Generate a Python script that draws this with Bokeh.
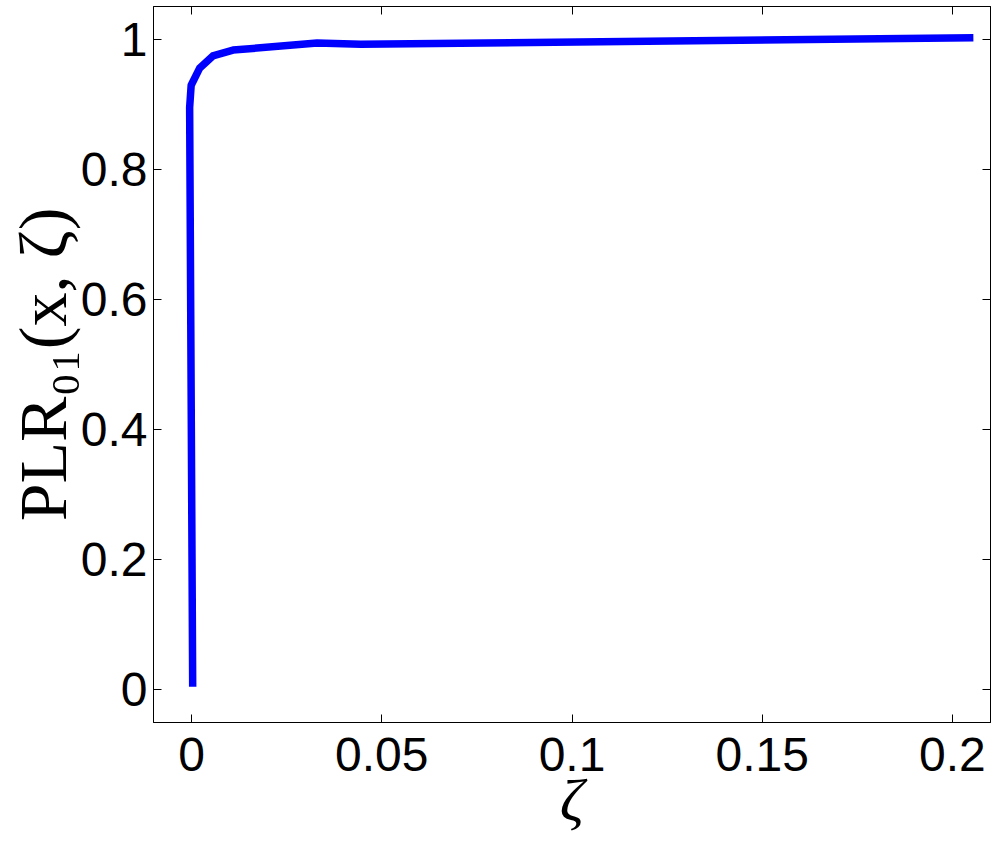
from bokeh.plotting import figure
from bokeh.models import LinearAxis, FixedTicker, Range1d
from bokeh.embed import file_html
from bokeh.resources import INLINE

# ---- data ----
zeta = [0.0003, -0.0005, -0.0001, 0.0021, 0.0056, 0.0109, 0.0330, 0.0445, 0.2055]
plr = [0.005, 0.895, 0.929, 0.955, 0.974, 0.983, 0.994, 0.992, 1.002]

x_ticks = [0, 0.05, 0.1, 0.15, 0.2]
x_tick_labels = ["0", "0.05", "0.1", "0.15", "0.2"]
y_ticks = [0, 0.2, 0.4, 0.6, 0.8, 1.0]
y_tick_labels = ["0", "0.2", "0.4", "0.6", "0.8", "1"]

x_label = "ζ"
y_label = "PLR₀₁(x, ζ)"

TICK_FONT = "Liberation Sans"
LABEL_FONT = "Liberation Serif"

p = figure(width=997, height=841,
           x_range=Range1d(-0.01, 0.21), y_range=Range1d(-0.05, 1.05),
           output_backend="svg", toolbar_location=None,
           min_border_left=153, min_border_right=7,
           min_border_top=6, min_border_bottom=119)

p.line(zeta, plr, line_color="#0000FF", line_width=7.5, line_join="round")

p.xgrid.visible = False
p.ygrid.visible = False
p.outline_line_color = "black"
p.outline_line_width = 1
p.background_fill_color = "white"
p.border_fill_color = "white"


def style_axis(ax, ticks, labels, show_labels=True):
    ax.ticker = FixedTicker(ticks=ticks)
    ax.major_label_overrides = dict(zip(ticks, labels))
    ax.major_tick_in = 8
    ax.major_tick_out = 0
    ax.minor_tick_in = 0
    ax.minor_tick_out = 0
    ax.major_tick_line_color = "black"
    ax.minor_tick_line_color = None
    ax.axis_line_color = "black"
    ax.major_label_text_font = TICK_FONT
    ax.major_label_text_color = "black"
    if show_labels:
        ax.major_label_text_font_size = "48px"
        ax.major_label_standoff = 15
    else:
        ax.major_label_text_font_size = "0px"
        ax.major_label_standoff = 0


xa = p.xaxis[0]
ya = p.yaxis[0]
style_axis(xa, x_ticks, x_tick_labels)
style_axis(ya, y_ticks, y_tick_labels)
ya.major_label_standoff = 6

xa.axis_label = x_label
xa.axis_label_text_font = LABEL_FONT
xa.axis_label_text_font_style = "italic"
xa.axis_label_text_font_size = "60px"
xa.axis_label_text_color = "black"
xa.axis_label_standoff = -7

ya.axis_label = y_label
ya.axis_label_text_font = LABEL_FONT
ya.axis_label_text_font_style = "normal"
ya.axis_label_text_font_size = "68px"
ya.axis_label_text_color = "black"
ya.axis_label_standoff = -3

top = LinearAxis()
style_axis(top, x_ticks, ["" for _ in x_tick_labels], show_labels=False)
p.add_layout(top, "above")

right = LinearAxis()
style_axis(right, y_ticks, ["" for _ in y_tick_labels], show_labels=False)
p.add_layout(right, "right")

open("out.html", "w").write(file_html(p, INLINE))
